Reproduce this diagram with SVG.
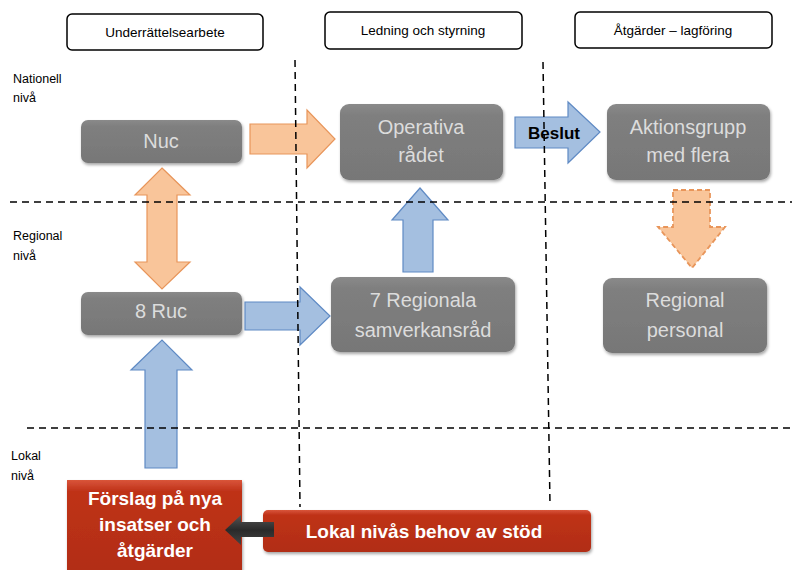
<svg xmlns="http://www.w3.org/2000/svg" width="792" height="570" viewBox="0 0 792 570">
<defs>
<filter id="sh" x="-10%" y="-10%" width="130%" height="140%"><feDropShadow dx="1" dy="2" stdDeviation="1.5" flood-color="#000" flood-opacity="0.35"/></filter>
<linearGradient id="gray" x1="0" y1="0" x2="0" y2="1"><stop offset="0" stop-color="#8a8a8a"/><stop offset="0.15" stop-color="#7f7f7f"/><stop offset="1" stop-color="#777"/></linearGradient>
<linearGradient id="red" x1="0" y1="0" x2="0" y2="1"><stop offset="0" stop-color="#d9553a"/><stop offset="0.12" stop-color="#bf3219"/><stop offset="1" stop-color="#b12d16"/></linearGradient>
<linearGradient id="blk" x1="0" y1="0" x2="0" y2="1"><stop offset="0" stop-color="#555"/><stop offset="0.5" stop-color="#2a2a2a"/><stop offset="1" stop-color="#444"/></linearGradient>
</defs>
<style>
.hdr{fill:#fff;stroke:#000;stroke-width:1.5}
.ht{font-family:"Liberation Sans",Arial,sans-serif;font-size:13.5px;fill:#000;text-anchor:middle}
.lv{font-family:"Liberation Sans",Arial,sans-serif;font-size:12.5px;fill:#000}
.dash{stroke:#000;stroke-width:1.5;stroke-dasharray:7,5;fill:none}
.gn{fill:url(#gray);filter:url(#sh)}
.gt{font-family:"Liberation Sans",Arial,sans-serif;font-size:20px;fill:#dcdcdc;text-anchor:middle}
.rn{fill:url(#red);filter:url(#sh)}
.rt{font-family:"Liberation Sans",Arial,sans-serif;font-size:19px;font-weight:bold;fill:#fff;text-anchor:middle}
.oa{fill:#f9c59a;stroke:#e8955a;stroke-width:1.2}
.ba{fill:#a4bfe0;stroke:#5f8ac4;stroke-width:1.2}
.od{fill:#f9c59a;stroke:#e8955a;stroke-width:1.8;stroke-dasharray:5,3}
</style>
<rect width="792" height="570" fill="#fff"/>
<g id="headers">
<rect class="hdr" x="67" y="14" width="196" height="36" rx="5"/>
<text class="ht" x="165" y="37">Underrättelsearbete</text>
<rect class="hdr" x="325" y="12" width="197" height="37" rx="5"/>
<text class="ht" x="423" y="35">Ledning och styrning</text>
<rect class="hdr" x="575" y="12" width="197" height="36" rx="5"/>
<text class="ht" x="673" y="35">Åtgärder – lagföring</text>
</g>
<g id="levels">
<text class="lv" x="13" y="83">Nationell</text>
<text class="lv" x="13" y="102">nivå</text>
<text class="lv" x="13" y="240">Regional</text>
<text class="lv" x="13" y="260">nivå</text>
<text class="lv" x="11" y="460">Lokal</text>
<text class="lv" x="11" y="480">nivå</text>
</g>
<g id="nuc"><rect class="gn" x="81" y="120" width="161" height="43" rx="7"/><text class="gt" x="161" y="148">Nuc</text></g>
<g id="operativa"><rect class="gn" x="340" y="104" width="163" height="76" rx="9"/><text class="gt" x="421" y="134">Operativa</text><text class="gt" x="421" y="162">rådet</text></g>
<g id="aktionsgrupp"><rect class="gn" x="607" y="104" width="163" height="76" rx="9"/><text class="gt" x="688" y="134">Aktionsgrupp</text><text class="gt" x="688" y="162">med flera</text></g>
<g id="ruc"><rect class="gn" x="81" y="292" width="161" height="43" rx="7"/><text class="gt" x="161" y="318">8 Ruc</text></g>
<g id="samverkansrad"><rect class="gn" x="331" y="277" width="184" height="75" rx="9"/><text class="gt" x="423" y="307">7 Regionala</text><text class="gt" x="423" y="337">samverkansråd</text></g>
<g id="regionalpersonal"><rect class="gn" x="603" y="278" width="164" height="75" rx="9"/><text class="gt" x="685" y="307">Regional</text><text class="gt" x="685" y="337">personal</text></g>
<g id="forslag"><rect class="rn" x="67" y="480" width="175" height="95"/><text class="rt" x="155" y="505">Förslag på nya</text><text class="rt" x="155" y="531">insatser och</text><text class="rt" x="155" y="557">åtgärder</text></g>
<g id="lokal"><rect class="rn" x="263" y="510" width="328" height="42" rx="5"/><text class="rt" x="424" y="538">Lokal nivås behov  av stöd</text></g>
<g id="connectors">
<polygon class="oa" points="250,124 307,124 307,110 335,139 307,168 307,154 250,154"/>
<polygon class="oa" points="162,168 190,195 177,195 177,262 190,262 162,289 135,262 147,262 147,195 135,195"/>
<polygon class="ba" points="245,302 300,302 300,287 330,316 300,345 300,330 245,330"/>
<polygon class="ba" points="145,468 145,370 131,370 162,340 192,370 177,370 177,468"/>
<polygon class="ba" points="403,272 403,220 392,220 420,188 448,220 433,220 433,272"/>
<polygon class="ba" points="515,117 568,117 568,102 600,132 568,163 568,148 515,148"/>
<text x="554" y="139" font-family="Liberation Sans,Arial,sans-serif" font-size="17" font-weight="bold" fill="#000" text-anchor="middle">Beslut</text>
<polygon class="od" points="673,190 710,190 710,227 725,227 692,268 658,227 673,227"/>
<polygon fill="url(#blk)" points="274,522 241,522 241,515 225,530 241,545 241,537 274,537"/>
</g>
<g id="grid">
<line class="dash" x1="295" y1="60" x2="300" y2="507"/>
<line class="dash" x1="543" y1="62" x2="550" y2="505"/>
<line class="dash" x1="10" y1="202" x2="792" y2="202"/>
<line class="dash" x1="27" y1="428" x2="792" y2="428"/>
</g>
</svg>
